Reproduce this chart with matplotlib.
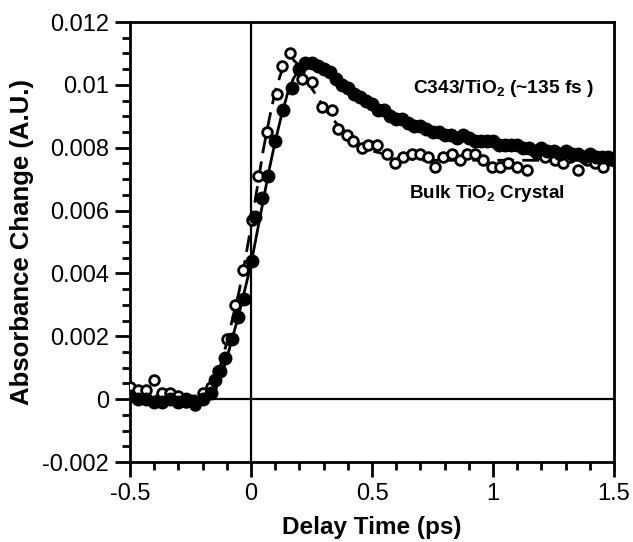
import numpy as np
import matplotlib.pyplot as plt
from matplotlib.ticker import MultipleLocator

plt.rcParams['font.family'] = ['Liberation Sans', 'DejaVu Sans']
plt.rcParams['mathtext.fontset'] = 'custom'
plt.rcParams['mathtext.rm'] = 'Liberation Sans:bold'
plt.rcParams['mathtext.bf'] = 'Liberation Sans:bold'
plt.rcParams['mathtext.default'] = 'bf'

# C343/TiO2 data (filled circles), dense in the decay part
c343_t = [-0.5, -0.467, -0.433, -0.4, -0.367, -0.333, -0.3, -0.267, -0.233, -0.2,
          -0.167, -0.15, -0.128, -0.107, -0.08, -0.055, -0.03, 0.003, 0.017, 0.045,
          0.072, 0.099, 0.134, 0.168, 0.2, 0.225,
          0.25, 0.275, 0.3, 0.325, 0.35, 0.375, 0.4, 0.425, 0.45, 0.475,
          0.5, 0.525, 0.55, 0.575, 0.6, 0.625, 0.65, 0.675, 0.7, 0.725,
          0.75, 0.775, 0.8, 0.825, 0.85, 0.875, 0.9, 0.925, 0.95, 0.975,
          1.0, 1.025, 1.05, 1.075, 1.1, 1.125, 1.15, 1.175, 1.2, 1.225,
          1.25, 1.275, 1.3, 1.325, 1.35, 1.375, 1.4, 1.425, 1.45, 1.475, 1.5]
c343_y = [0.0001, 0.0000, 0.0000, -0.0001, -0.0001, 0.0000, -0.0001, 0.0000, -0.0001, 0.0000,
          0.0002, 0.0006, 0.0009, 0.0013, 0.0019, 0.0026, 0.0032, 0.0044, 0.0058, 0.0064,
          0.0071, 0.0082, 0.0092, 0.0099, 0.0105, 0.0107,
          0.0107, 0.0106, 0.0105, 0.0104, 0.0102, 0.0100, 0.0099, 0.0097, 0.0096, 0.0095,
          0.0094, 0.0092, 0.0092, 0.0090, 0.0089, 0.0089, 0.0088, 0.0087, 0.0087, 0.0086,
          0.0085, 0.0085, 0.0084, 0.0084, 0.0083, 0.0084, 0.0083, 0.0082, 0.0082, 0.0082,
          0.0082, 0.0081, 0.0081, 0.0081, 0.0081, 0.0080, 0.0080, 0.0079, 0.0080, 0.0079,
          0.0079, 0.0078, 0.0079, 0.0078, 0.0078, 0.0077, 0.0078, 0.0077, 0.0077, 0.0077, 0.0076]

# bulk TiO2 crystal data (open circles)
bulk_t = [-0.5, -0.467, -0.433, -0.4, -0.367, -0.333, -0.3, -0.267, -0.233, -0.2,
          -0.167, -0.135, -0.098, -0.066, -0.032, 0.003, 0.03, 0.065, 0.106, 0.127,
          0.161, 0.209, 0.25, 0.292, 0.333, 0.36, 0.395, 0.423, 0.457, 0.483,
          0.519, 0.561, 0.595, 0.63, 0.664, 0.698, 0.733, 0.76, 0.795, 0.829,
          0.864, 0.891, 0.926, 0.96, 0.995, 1.029, 1.063, 1.098, 1.14, 1.18,
          1.215, 1.256, 1.29, 1.318, 1.352, 1.387, 1.42, 1.456, 1.49]
bulk_y = [0.0004, 0.0003, 0.0003, 0.0006, 0.0002, 0.0002, 0.0001, -0.0001, -0.0002, 0.0002,
          0.0004, 0.0009, 0.0019, 0.0030, 0.0041, 0.0057, 0.0071, 0.0085, 0.0097, 0.0106,
          0.0110, 0.0102, 0.0101, 0.0093, 0.0092, 0.0086, 0.0084, 0.0082, 0.0080, 0.0081,
          0.0081, 0.0078, 0.0075, 0.0077, 0.0078, 0.0078, 0.0077, 0.0074, 0.0077, 0.0078,
          0.0076, 0.0078, 0.0078, 0.0076, 0.0074, 0.0074, 0.0075, 0.0074, 0.0073, 0.0078,
          0.0077, 0.0076, 0.0075, 0.0077, 0.0073, 0.0076, 0.0075, 0.0074, 0.0076]

# fitted curves
c343_fit_t = [-0.5, -0.2, -0.175, -0.15, -0.125, -0.1, -0.075, -0.05, -0.025, 0.0,
              0.025, 0.05, 0.075, 0.1, 0.125, 0.15, 0.175, 0.2, 0.225, 0.25,
              0.3, 0.35, 0.4, 0.5, 0.6, 0.7, 0.8, 0.9, 1.0, 1.1, 1.2, 1.3, 1.4, 1.5]
c343_fit_y = [0.0, 0.0, 0.0001, 0.0003, 0.0007, 0.0013, 0.0020, 0.0027, 0.0035, 0.0043,
              0.0053, 0.0063, 0.0073, 0.0082, 0.0090, 0.0097, 0.0102, 0.0105, 0.0107, 0.0107,
              0.0105, 0.0102, 0.0098, 0.0093, 0.0089, 0.0086, 0.0084, 0.0082, 0.0081, 0.0080,
              0.0079, 0.0078, 0.0077, 0.0076]
bulk_fit_t = [-0.5, -0.2, -0.175, -0.15, -0.125, -0.1, -0.075, -0.05, -0.025, 0.0,
              0.025, 0.05, 0.075, 0.1, 0.125, 0.15, 0.175, 0.2, 0.225, 0.25,
              0.3, 0.35, 0.4, 0.45, 0.5, 0.6, 0.7, 0.8, 1.0, 1.2, 1.5]
bulk_fit_y = [0.0001, 0.0001, 0.0003, 0.0006, 0.0011, 0.0018, 0.0026, 0.0034, 0.0044, 0.0055,
              0.0067, 0.0079, 0.0089, 0.0098, 0.0104, 0.0107, 0.0108, 0.0106, 0.0103, 0.0099,
              0.0093, 0.0088, 0.0084, 0.0081, 0.0079, 0.0077, 0.0076, 0.0076, 0.0076, 0.0076, 0.0076]

x_ticks = [-0.5, 0, 0.5, 1, 1.5]
x_tick_labels = ['-0.5', '0', '0.5', '1', '1.5']
y_ticks = [-0.002, 0, 0.002, 0.004, 0.006, 0.008, 0.01, 0.012]
y_tick_labels = ['-0.002', '0', '0.002', '0.004', '0.006', '0.008', '0.01', '0.012']

fig = plt.figure(figsize=(6.33, 5.42), dpi=100)
ax = fig.add_axes([0.2054, 0.1476, 0.7646, 0.8118])

# reference lines through the origin
ax.axvline(0, color='black', lw=1.6, zorder=1)
ax.axhline(0, color='black', lw=1.6, zorder=1)

ax.plot(bulk_fit_t, bulk_fit_y, color='black', lw=2, ls=(0, (6, 3)), zorder=2)
ax.plot(c343_fit_t, c343_fit_y, color='black', lw=2, zorder=2)

ax.plot(bulk_t, bulk_y, 'o', ms=7, mfc='white', mec='black', mew=2, zorder=3)
ax.plot(c343_t, c343_y, 'o', ms=9, mfc='black', mec='black', zorder=4)

ax.text(1.045, 0.0099, 'C343/TiO$_2$ (~135 fs )', fontsize=13.8, fontweight='bold',
        ha='center', va='center')
ax.text(0.975, 0.00655, 'Bulk TiO$_2$ Crystal', fontsize=13.6, fontweight='bold',
        ha='center', va='center')

ax.set_xlim(-0.5, 1.5)
ax.set_ylim(-0.002, 0.012)
ax.set_xticks(x_ticks)
ax.set_xticklabels(x_tick_labels)
ax.set_yticks(y_ticks)
ax.set_yticklabels(y_tick_labels)
ax.xaxis.set_minor_locator(MultipleLocator(0.1))
ax.yaxis.set_minor_locator(MultipleLocator(0.0005))
ax.tick_params(which='major', direction='out', length=11, width=2, labelsize=17, pad=4)
ax.tick_params(which='minor', direction='out', length=6, width=2)
for s in ax.spines.values():
    s.set_linewidth(2)

ax.set_xlabel('Delay Time (ps)', fontsize=17.5, fontweight='bold', labelpad=8)
ax.set_ylabel('Absorbance Change (A.U.)', fontsize=18.5, fontweight='bold', labelpad=6)

fig.savefig('out.png', dpi=100)
